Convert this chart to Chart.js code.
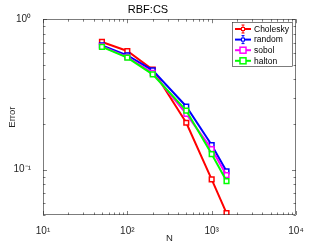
<!DOCTYPE html>
<html>
<head>
<meta charset="utf-8">
<script src="https://cdn.jsdelivr.net/npm/chart.js@4.4.0/dist/chart.umd.min.js"></script>
<style>
  html, body { margin: 0; padding: 0; background: #fff; }
  #wrap { width: 327px; height: 245px; }
</style>
</head>
<body>
<div id="wrap"><canvas id="chart" width="327" height="245"></canvas></div>
<script>
// datos
const nValues = [50, 100, 200, 500, 1000, 1500];
const cholesky = [0.706, 0.615, 0.462, 0.205, 0.0862, 0.0514];
const random = [0.67, 0.575, 0.457, 0.263, 0.146, 0.0975];
const sobol = [0.66, 0.56, 0.44, 0.235, 0.137, 0.092];
const halton = [0.655, 0.555, 0.43, 0.247, 0.127, 0.084];

const xTickValues = [10, 100, 1000, 10000];
const xTickLabels = ['10¹', '10²', '10³', '10⁴'];
const yTickValues = [0.1, 1];
const yTickLabels = ['10⁻¹', '10⁰'];

const axisColor = '#262626';
const fontFamily = 'Arial, "Liberation Sans", Helvetica, sans-serif';

function toPoints(ys) {
    return nValues.map((n, i) => ({ x: n, y: ys[i] }));
}

function makeSet(label, ys, color, order, errbar) {
    return {
        label: label,
        data: toPoints(ys),
        borderColor: color,
        backgroundColor: '#ffffff',
        pointBorderColor: color,
        pointBackgroundColor: '#ffffff',
        pointStyle: 'rect',
        pointRadius: 3.3,
        pointBorderWidth: 1.5,
        borderWidth: 2,
        tension: 0,
        order: order,
        errbar: errbar
    };
}

// ticks hacia dentro, caja completa y leyenda interior (estilo MATLAB)
const matlabAxes = {
    id: 'matlabAxes',
    afterDraw(chart) {
        const ctx = chart.ctx;
        const a = chart.chartArea;
        const xs = chart.scales.x;
        const ys = chart.scales.y;
        ctx.save();
        ctx.strokeStyle = axisColor;
        ctx.lineWidth = 0.6;
        ctx.strokeRect(a.left + 0.5, a.top + 0.5, a.right - a.left - 1, a.bottom - a.top - 1);

        function minors(lo, hi) {
            const out = [];
            for (let d = Math.floor(Math.log10(lo)); d <= Math.ceil(Math.log10(hi)); d++) {
                for (let k = 1; k <= 9; k++) {
                    const v = k * Math.pow(10, d);
                    if (v >= lo * 0.999 && v <= hi * 1.001) out.push({ v: v, major: k === 1 });
                }
            }
            return out;
        }
        ctx.beginPath();
        minors(xs.min, xs.max).forEach(t => {
            const px = Math.round(xs.getPixelForValue(t.v)) + 0.5;
            const len = t.major ? 4 : 2.5;
            ctx.moveTo(px, a.bottom); ctx.lineTo(px, a.bottom - len);
            ctx.moveTo(px, a.top); ctx.lineTo(px, a.top + len);
        });
        minors(ys.min, ys.max).forEach(t => {
            const py = Math.round(ys.getPixelForValue(t.v)) + 0.5;
            const len = t.major ? 4 : 2.5;
            ctx.moveTo(a.left, py); ctx.lineTo(a.left + len, py);
            ctx.moveTo(a.right, py); ctx.lineTo(a.right - len, py);
        });
        ctx.stroke();

        // leyenda
        const bx = 232, by = 22, bw = 60, bh = 44;
        ctx.fillStyle = '#ffffff';
        ctx.fillRect(bx, by, bw, bh);
        ctx.strokeStyle = axisColor;
        ctx.lineWidth = 0.6;
        ctx.strokeRect(bx + 0.5, by + 0.5, bw, bh);
        ctx.font = '8.5px ' + fontFamily;
        ctx.textBaseline = 'middle';
        ctx.textAlign = 'left';
        chart.data.datasets.forEach((ds, i) => {
            const yy = by + 7 + i * 10.6;
            ctx.strokeStyle = ds.borderColor;
            ctx.lineWidth = 2;
            ctx.beginPath();
            ctx.moveTo(bx + 3, yy); ctx.lineTo(bx + 19, yy);
            ctx.stroke();
            if (ds.errbar) {
                ctx.lineWidth = 1;
                ctx.beginPath();
                ctx.moveTo(bx + 11, yy - 4); ctx.lineTo(bx + 11, yy + 4);
                ctx.moveTo(bx + 9.5, yy - 4); ctx.lineTo(bx + 12.5, yy - 4);
                ctx.moveTo(bx + 9.5, yy + 4); ctx.lineTo(bx + 12.5, yy + 4);
                ctx.stroke();
                ctx.fillStyle = '#fff';
                ctx.lineWidth = 1;
                ctx.fillRect(bx + 9.5, yy - 1.5, 3, 3);
                ctx.strokeRect(bx + 9.5, yy - 1.5, 3, 3);
            } else {
                ctx.fillStyle = '#fff';
                ctx.lineWidth = 1.5;
                ctx.fillRect(bx + 8, yy - 3, 6, 6);
                ctx.strokeRect(bx + 8, yy - 3, 6, 6);
            }
            ctx.fillStyle = '#000';
            ctx.fillText(ds.label, bx + 22, yy + 0.5);
        });
        ctx.restore();
    }
};

const ctx = document.getElementById('chart').getContext('2d');
const chart = new Chart(ctx, {
    type: 'line',
    data: {
        datasets: [
            makeSet('Cholesky', cholesky, '#ff0000', 3, true),
            makeSet('random', random, '#0000ff', 2, true),
            makeSet('sobol', sobol, '#ff00ff', 1, false),
            makeSet('halton', halton, '#00ff00', 0, false)
        ]
    },
    options: {
        responsive: false,
        animation: false,
        layout: { padding: { left: 0, right: 31, top: 0, bottom: 0 } },
        plugins: {
            legend: { display: false },
            tooltip: { enabled: false },
            title: {
                display: true,
                text: 'RBF:CS',
                color: '#000',
                font: { family: fontFamily, size: 11, weight: 'normal', lineHeight: 1.2 },
                padding: { top: 3, bottom: 3 }
            }
        },
        scales: {
            x: {
                type: 'logarithmic',
                min: 10,
                max: 10000,
                grid: { display: false },
                border: { display: false },
                afterBuildTicks: s => { s.ticks = xTickValues.map(v => ({ value: v })); },
                afterFit: s => { s.height = 30; },
                ticks: {
                    autoSkip: false,
                    maxRotation: 0,
                    padding: 2,
                    color: axisColor,
                    font: { family: fontFamily, size: 10 },
                    callback: (v) => xTickLabels[xTickValues.indexOf(v)] || ''
                },
                title: {
                    display: true,
                    text: 'N',
                    color: axisColor,
                    font: { family: fontFamily, size: 9.5 },
                    padding: { top: 0, bottom: 1 }
                }
            },
            y: {
                type: 'logarithmic',
                min: 0.05,
                max: 1,
                grid: { display: false },
                border: { display: false },
                afterBuildTicks: s => { s.ticks = yTickValues.map(v => ({ value: v })); },
                afterFit: s => { s.width = 43; },
                ticks: {
                    autoSkip: false,
                    padding: 4,
                    color: axisColor,
                    font: { family: fontFamily, size: 10 },
                    callback: (v) => yTickLabels[yTickValues.indexOf(v)] || ''
                },
                title: {
                    display: true,
                    text: 'Error',
                    color: axisColor,
                    font: { family: fontFamily, size: 9.5 },
                    padding: { top: 7, bottom: 0 }
                }
            }
        }
    },
    plugins: [matlabAxes]
});
</script>
</body>
</html>
